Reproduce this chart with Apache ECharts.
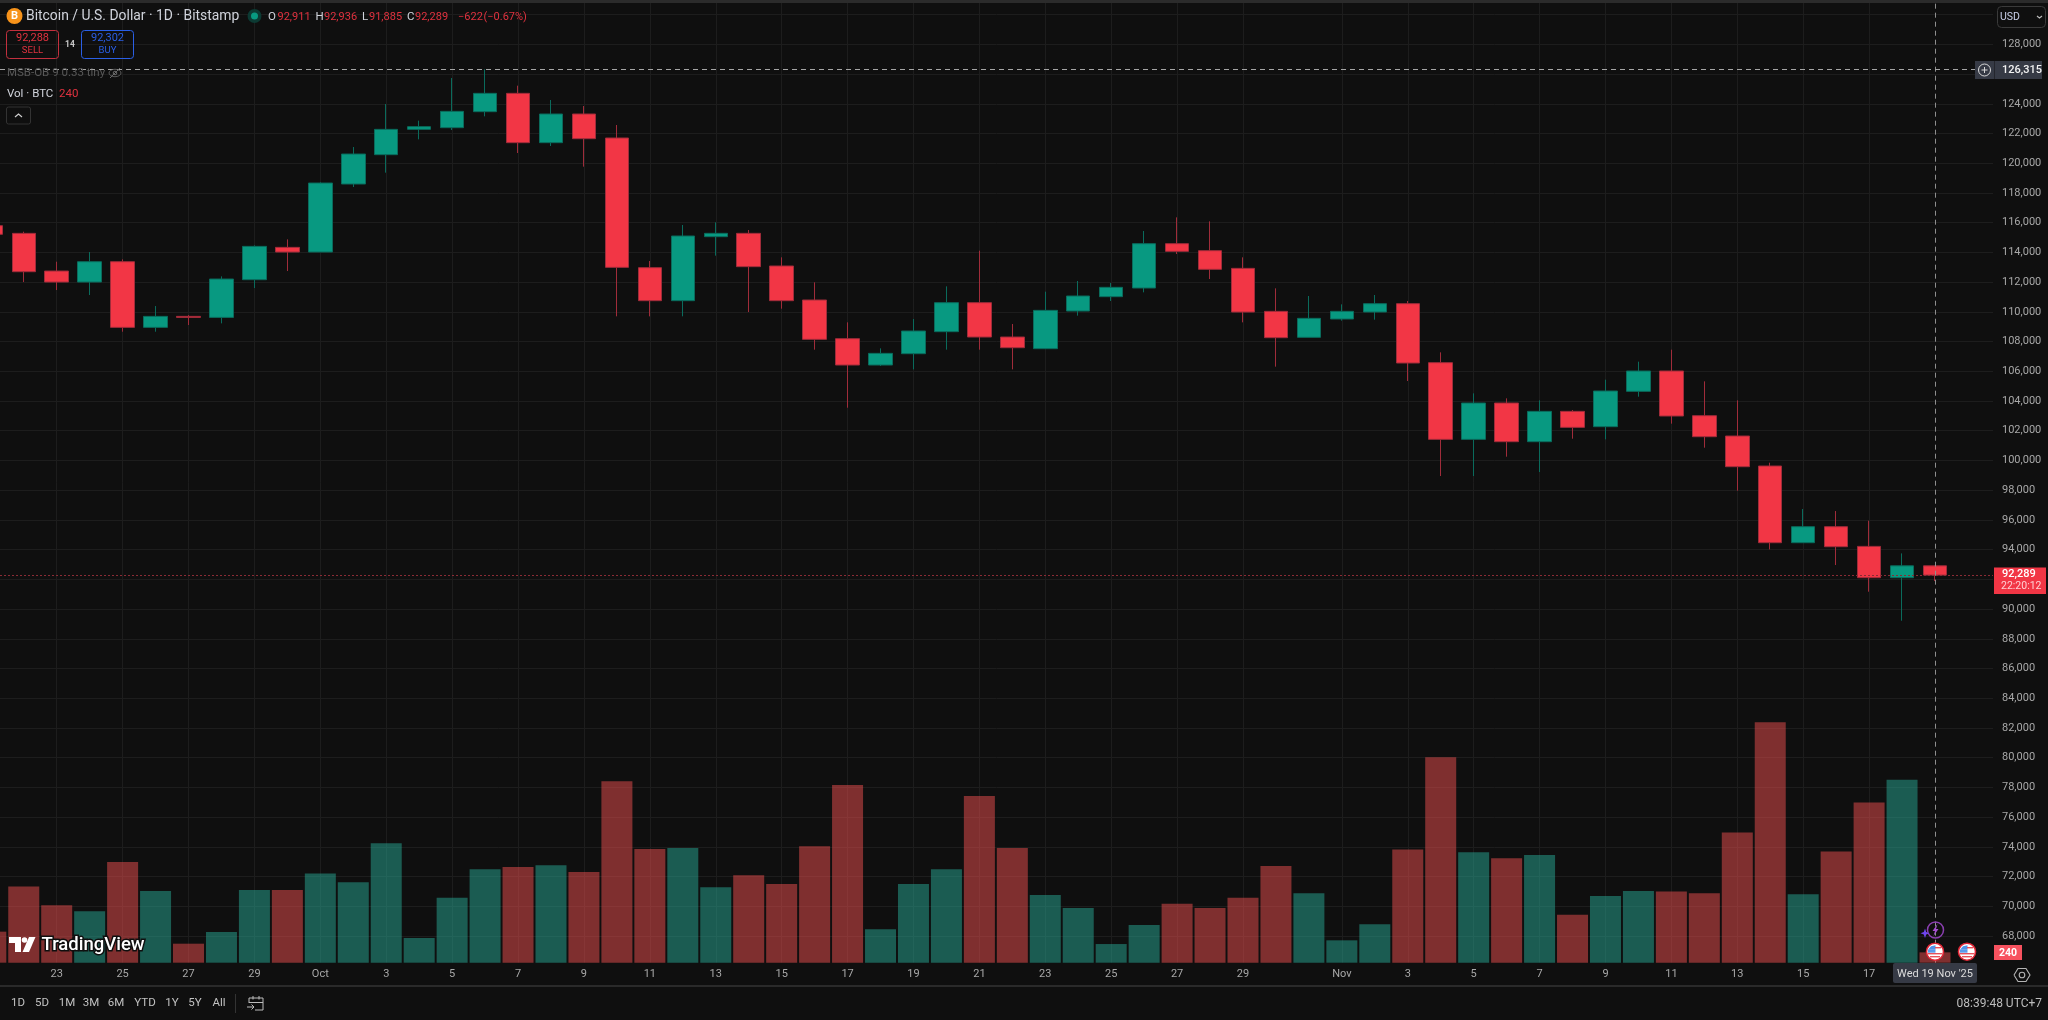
<!DOCTYPE html>
<html>
<head>
<meta charset="utf-8">
<title>BTCUSD daily</title>
<script src="https://cdn.jsdelivr.net/npm/echarts@6/dist/echarts.min.js"></script>
<style>
  html, body { margin: 0; padding: 0; background: #0f0f0f; }
  #chart { width: 2048px; height: 1020px; }
</style>
</head>
<body>
<div id="chart"></div>
<script>
// Daily sessions from 21 Sep to 19 Nov 2025
const days = ['Sep 21','Sep 22','Sep 23','Sep 24','Sep 25','Sep 26','Sep 27','Sep 28','Sep 29','Sep 30',
  'Oct 1','Oct 2','Oct 3','Oct 4','Oct 5','Oct 6','Oct 7','Oct 8','Oct 9','Oct 10','Oct 11','Oct 12','Oct 13','Oct 14','Oct 15','Oct 16','Oct 17','Oct 18','Oct 19','Oct 20','Oct 21','Oct 22','Oct 23','Oct 24','Oct 25','Oct 26','Oct 27','Oct 28','Oct 29','Oct 30','Oct 31',
  'Nov 1','Nov 2','Nov 3','Nov 4','Nov 5','Nov 6','Nov 7','Nov 8','Nov 9','Nov 10','Nov 11','Nov 12','Nov 13','Nov 14','Nov 15','Nov 16','Nov 17','Nov 18','Nov 19'];

const opens = [115796,115280,112745,112005,113373,108955,109695,109627,112162,114338,
  114024,118600,120573,122278,122390,123467,124701,121381,123310,121695,112971,110751,115057,115282,113083,110796,108194,106422,107184,108665,110616,108306,107521,110055,111020,111603,114586,114115,112926,110033,108284,
  109518,109989,110549,106579,101420,103865,101263,103305,102273,104650,106019,103013,101645,99626,94467,95544,94220,92112,92911];
const closes = [115217,112700,112005,113373,108955,109695,109627,112207,114405,114024,
  118667,120618,122278,122458,123489,124701,121381,123310,121650,112993,110751,115102,115282,113039,110751,108149,106422,107207,108710,110616,108306,107588,110100,111065,111648,114586,114070,112859,109988,108261,109563,
  110034,110549,106557,101420,103865,101263,103305,102228,104673,106019,102991,101600,99581,94467,95544,94198,92112,92911,92289];
const lows = [115000,112005,111467,111130,108663,108663,109112,109224,111601,112745,
  114024,118398,119362,121605,122233,123153,120686,121157,119766,109696,109696,109696,113779,109988,110212,107454,103551,106354,106130,107454,107454,106130,107521,109741,110728,111311,113891,112209,109293,106310,108284,
  109406,109473,105346,98953,98953,100254,99222,101465,101420,104291,102475,100860,97966,94018,94467,92965,91170,89218,91885];
const highs = [116000,115392,113373,114024,113530,110390,109784,112386,114472,114876,
  118712,121089,123983,122861,125732,126315,125217,124252,123848,122570,113420,115842,116022,115506,113667,111984,109293,107543,109517,111715,114115,109180,111356,112074,111939,115439,116358,116089,113667,111581,111065,
  110505,111133,110729,107275,104516,104179,104045,103394,105435,106647,107454,105323,104045,99850,96733,96598,95948,93749,92936];
const volumes = [720,1765,1331,1192,2337,1664,441,712,1687,1687,
  2067,1865,2771,573,1509,2167,2221,2260,2105,4211,2639,2663,1749,2028,1827,2701,4125,774,1827,2167,3870,2663,1571,1269,433,875,1370,1269,1509,2245,1610,
  519,890,2624,4768,2562,2423,2500,1115,1548,1664,1649,1610,3019,5581,1587,2577,3715,4242,240];

// Date ticks on the time scale, given as [day position, label]
const dateTicks = [[2,'23'],[4,'25'],[6,'27'],[8,'29'],[10,'Oct'],[12,'3'],[14,'5'],[16,'7'],[18,'9'],[20,'11'],[22,'13'],[24,'15'],[26,'17'],[28,'19'],[30,'21'],[32,'23'],[34,'25'],[36,'27'],[38,'29'],[41,'Nov'],[43,'3'],[45,'5'],[47,'7'],[49,'9'],[51,'11'],[53,'13'],[55,'15'],[57,'17']];
const highestPrice = 126315;
const lastPrice = 92289;
const cursorDay = 59;

const rangeTabs = [['1D',18],['5D',42],['1M',67],['3M',91],['6M',116],['YTD',145],['1Y',172],['5Y',195],['All',219]];

const UI_FONT = 'Roboto, "Noto Sans", sans-serif';
const UP = '#089981', DOWN = '#f23645';
const UP_EDGE = '#0a6b5c', DOWN_EDGE = '#a02c3a';
const VOL_UP = 'rgba(40,170,150,0.5)', VOL_DOWN = 'rgba(240,80,80,0.5)';
const MUTED = '#a8a8a8', LIGHT = '#d1d4dc', RED = '#e0323f', BLUE = '#2a5fe6';
const GRID = '#1d1d1d';

// Visible window of the time scale, in day positions
const DAY_MIN = 0.2792, DAY_MAX = 60.76;

const chart = echarts.init(document.getElementById('chart'), null, { renderer: 'canvas', width: 2048, height: 1020 });

const ohlc = days.map((_, i) => [i, opens[i], closes[i], lows[i], highs[i]]);
const volumeBars = days.map((_, i) => [i, volumes[i]]);

chart.setOption({
  animation: false,
  backgroundColor: '#0f0f0f',
  grid: [
    { left: 0, right: 55, top: 3, height: 959.7 },
    { left: 0, right: 55, top: 14.57, height: 921.53 }
  ],
  xAxis: [
    {
      type: 'value', gridIndex: 0, min: DAY_MIN, max: DAY_MAX,
      axisLine: { show: false },
      axisTick: { show: false, customValues: dateTicks.map(d => d[0]) },
      splitLine: { show: true, lineStyle: { color: GRID, width: 1 } },
      axisLabel: {
        customValues: dateTicks.map(d => d[0]),
        formatter: v => (dateTicks.find(d => d[0] === v) || [0, ''])[1],
        color: MUTED, fontFamily: UI_FONT, fontSize: 11, margin: 6
      }
    },
    { type: 'value', gridIndex: 1, min: DAY_MIN, max: DAY_MAX, show: false, splitLine: { show: false } }
  ],
  yAxis: [
    { type: 'value', gridIndex: 0, min: 0, max: 22265, show: false, splitLine: { show: false } },
    {
      type: 'value', gridIndex: 1, position: 'right', min: 68000, max: 130000, interval: 2000,
      axisLine: { show: false }, axisTick: { show: false },
      splitLine: { show: true, lineStyle: { color: GRID, width: 1 } },
      axisLabel: {
        formatter: v => v >= 130000 ? '' : v.toLocaleString('en-US'),
        color: MUTED, fontFamily: UI_FONT, fontSize: 11, margin: 9
      }
    }
  ],
  series: [
    {
      type: 'bar', xAxisIndex: 0, yAxisIndex: 0, z: 5, barWidth: 31, data: volumeBars,
      itemStyle: { color: p => closes[p.data[0]] >= opens[p.data[0]] ? VOL_UP : VOL_DOWN },
      markLine: {
        silent: true, symbol: 'none', label: { show: false }, animation: false,
        lineStyle: { color: '#8f8f8f', type: [5, 4], width: 1 },
        data: [{ xAxis: cursorDay }]
      }
    },
    {
      type: 'candlestick', xAxisIndex: 1, yAxisIndex: 1, z: 3, barWidth: 24,
      encode: { x: 0, y: [1, 2, 3, 4] }, data: ohlc,
      itemStyle: { color: UP, color0: DOWN, borderColor: UP_EDGE, borderColor0: DOWN_EDGE, borderWidth: 1 },
      markLine: {
        silent: true, symbol: 'none', label: { show: false }, animation: false,
        data: [
          { yAxis: highestPrice, lineStyle: { color: '#a6a6a6', type: [5, 4], width: 1 } },
          { yAxis: lastPrice, lineStyle: { color: '#8a2b35', type: [2, 2], width: 1 } }
        ]
      }
    }
  ]
});

const yOf = p => chart.convertToPixel({ yAxisIndex: 1 }, p);
const xOf = d => chart.convertToPixel({ xAxisIndex: 1 }, d);

// Small helpers for the interface chrome around the plot
function label(x, y, text, fill, size, extra) {
  return Object.assign({ type: 'text', x, y, z: 100, style: Object.assign({
    text, fill, fontSize: size, fontFamily: UI_FONT, textVerticalAlign: 'middle', textAlign: 'left'
  }, extra || {}) });
}
const box = (x, y, w, h, fill, stroke, r) => ({ type: 'rect', z: 99, shape: { x, y, width: w, height: h, r: r || 0 }, style: { fill: fill || 'none', stroke: stroke || 'none', lineWidth: 1 } });
const dot = (cx, cy, r, fill, stroke, lw) => ({ type: 'circle', z: 100, shape: { cx, cy, r }, style: { fill: fill || 'none', stroke: stroke || 'none', lineWidth: lw || 1 } });
const seg = (x1, y1, x2, y2, stroke, lw) => ({ type: 'line', z: 100, shape: { x1, y1, x2, y2 }, style: { stroke, lineWidth: lw || 1 } });
const poly = (points, fill) => ({ type: 'polygon', z: 100, shape: { points }, style: { fill } });
const path = (points, stroke, lw) => ({ type: 'polyline', z: 100, shape: { points }, style: { fill: 'none', stroke, lineWidth: lw || 1 } });

function usFlag(cx, cy) {
  return [
    dot(cx, cy, 8.5, '#ffffff', '#e02535', 1.6),
    poly([[cx - 7, cy - 2], [cx + 0.5, cy - 2], [cx + 0.5, cy - 6.5], [cx - 4, cy - 5.5]], '#4f93ea'),
    poly([[cx - 7, cy - 2], [cx + 0.5, cy - 2], [cx + 0.5, cy + 1], [cx - 7, cy + 1]], '#5a9bec'),
    seg(cx, cy - 4, cx + 6, cy - 4, '#e8505a', 1.4),
    seg(cx - 7, cy + 2, cx + 7, cy + 2, '#e8505a', 1.4),
    seg(cx - 5, cy + 5, cx + 5, cy + 5, '#e8505a', 1.4)
  ];
}

const highY = yOf(highestPrice), lastY = yOf(lastPrice), cursorX = xOf(cursorDay);

const chrome = [
  // Frame strips
  box(0, 0, 2048, 3, '#2b2b2b'),
  box(0, 985, 2048, 2, '#2a2a2a'),

  // Symbol legend row
  dot(14.5, 16, 8, '#f7931a'),
  label(14.5, 16.5, 'B', '#ffffff', 11, { textAlign: 'center', fontWeight: 'bold' }),
  label(26, 17, 'Bitcoin / U.S. Dollar · 1D · Bitstamp', LIGHT, 13.9),
  dot(254.5, 16, 7, '#0c3a33'),
  dot(254.5, 16, 3.5, '#089981'),
  label(268, 17, 'O', LIGHT, 11.5), label(277.5, 17, '92,911', RED, 11),
  label(315.5, 17, 'H', LIGHT, 11.5), label(324, 17, '92,936', RED, 11),
  label(362, 17, 'L', LIGHT, 11.5), label(369, 17, '91,885', RED, 11),
  label(407, 17, 'C', LIGHT, 11.5), label(415, 17, '92,289', RED, 11),
  label(458, 17, '−622', RED, 11), label(483.5, 17, '(−0.67%)', RED, 11),

  // Order buttons
  box(6.5, 30.5, 52, 28, 'none', '#c3303e', 3),
  label(32.5, 38.5, '92,288', RED, 11, { textAlign: 'center' }),
  label(32.5, 51, 'SELL', RED, 9.5, { textAlign: 'center' }),
  label(70, 44.5, '14', '#c8c8c8', 8.5, { textAlign: 'center', fontWeight: 'bold' }),
  box(81.5, 30.5, 52, 28, 'none', '#2a5fe6', 3),
  label(107.5, 38.5, '92,302', BLUE, 11, { textAlign: 'center' }),
  label(107.5, 51, 'BUY', BLUE, 9.5, { textAlign: 'center' }),

  // Study legends
  label(7, 73.5, 'MSB-OB 9 0.33 tiny', '#585858', 11.5),
  { type: 'circle', z: 100, shape: { cx: 115, cy: 73, r: 6 }, scaleY: 0.62, originY: 73, originX: 115, style: { fill: 'none', stroke: '#6a6a6a', lineWidth: 1 } },
  dot(115, 73, 1.8, 'none', '#6a6a6a', 1),
  seg(110, 78, 120, 68, '#6a6a6a', 1),
  label(7, 94.5, 'Vol · BTC', LIGHT, 11.5),
  label(59, 94.5, '240', RED, 11.5),
  box(6.5, 107, 24, 17, 'none', '#333333', 2),
  path([[15, 117], [18.5, 114], [22, 117]], '#cfcfcf', 1.2),

  // Currency selector
  box(1997.5, 6.5, 48, 21, '#0f0f0f', '#3a3a3a', 4),
  label(2000, 17, 'USD', '#c9cfe8', 10.5),
  path([[2037, 16], [2039.5, 18], [2042, 16]], '#bdbdbd', 1.1),

  // Highest price tag
  box(1975, 61, 67, 18, '#363a45'),
  seg(1994.5, 61, 1994.5, 79, '#24262d', 1),
  dot(1984.5, 70, 6, 'none', '#d8d8d8', 1),
  seg(1981.5, 70, 1987.5, 70, '#d8d8d8', 1),
  seg(1984.5, 67, 1984.5, 73, '#d8d8d8', 1),
  label(2002, highY + 0.5, highestPrice.toLocaleString('en-US'), '#f2f2f2', 11, { fontWeight: 500 }),

  // Last price tag with countdown
  box(1994, 567.5, 52, 26.5, '#f23645'),
  label(2002, lastY - 0.5, lastPrice.toLocaleString('en-US'), '#ffffff', 11, { fontWeight: 500 }),
  label(2001, 586.5, '22:20:12', '#ffd0d4', 10.5),

  // Volume tag
  box(1994, 945, 28, 15, '#f7525f'),
  label(2008, 953, '240', '#ffffff', 10.5, { textAlign: 'center', fontWeight: 'bold' }),

  // Events on the time scale
  ...usFlag(cursorX, 951.7),
  ...usFlag(1967, 951.7),
  dot(cursorX + 0.5, 930, 8, 'none', '#8a3fb0', 1.5),
  poly([[cursorX + 2.5, 924], [cursorX - 2.5, 931], [cursorX, 931], [cursorX - 1.5, 936], [cursorX + 3.5, 929], [cursorX + 1, 929]], '#a64fd0'),
  poly([[cursorX - 10, 928.5], [cursorX - 8.8, 932], [cursorX - 5.5, 933.2], [cursorX - 8.8, 934.5], [cursorX - 10, 938], [cursorX - 11.2, 934.5], [cursorX - 14.5, 933.2], [cursorX - 11.2, 932]], '#6f45f0'),

  // Crosshair date tag
  box(1893, 963, 84, 20, '#363a45', null, 2),
  label(1935, 974, "Wed 19 Nov '25", '#dcdcdc', 11, { textAlign: 'center' }),

  // Scale settings
  path([[2014, 975], [2018, 968.5], [2026, 968.5], [2030, 975], [2026, 981.5], [2018, 981.5], [2014, 975]], '#b5b5b5', 1.1),
  dot(2022, 975, 2.8, 'none', '#b5b5b5', 1.1),

  // Watermark
  poly([[9, 937], [21, 937], [21, 952], [15, 952], [15, 943], [9, 943]], '#ffffff'),
  dot(24.5, 940, 2.8, '#ffffff'),
  poly([[29, 937], [35.5, 937], [29, 952], [22.5, 952]], '#ffffff'),
  label(41.5, 945, 'TradingView', '#ffffff', 18.5, { fontWeight: 500, stroke: '#0f0f0f', lineWidth: 3 }),

  // Range tabs and clock
  ...rangeTabs.map(t => label(t[1], 1003.5, t[0], '#c2c2c2', 11.5, { textAlign: 'center' })),
  seg(235.5, 994, 235.5, 1013, '#333333', 1),
  path([[255, 1010], [263, 1010], [263, 998], [249, 998], [249, 1003]], '#bdbdbd', 1),
  seg(249, 1002.5, 263, 1002.5, '#bdbdbd', 1),
  seg(253, 996, 253, 999.5, '#bdbdbd', 1),
  seg(259, 996, 259, 999.5, '#bdbdbd', 1),
  path([[247, 1007], [254, 1007]], '#bdbdbd', 1),
  path([[251.5, 1004.5], [254, 1007], [251.5, 1009.5]], '#bdbdbd', 1),
  label(2042, 1003.5, '08:39:48 UTC+7', '#bdbdbd', 12, { textAlign: 'right' })
];

chart.setOption({ graphic: { elements: chrome } });
</script>
</body>
</html>
